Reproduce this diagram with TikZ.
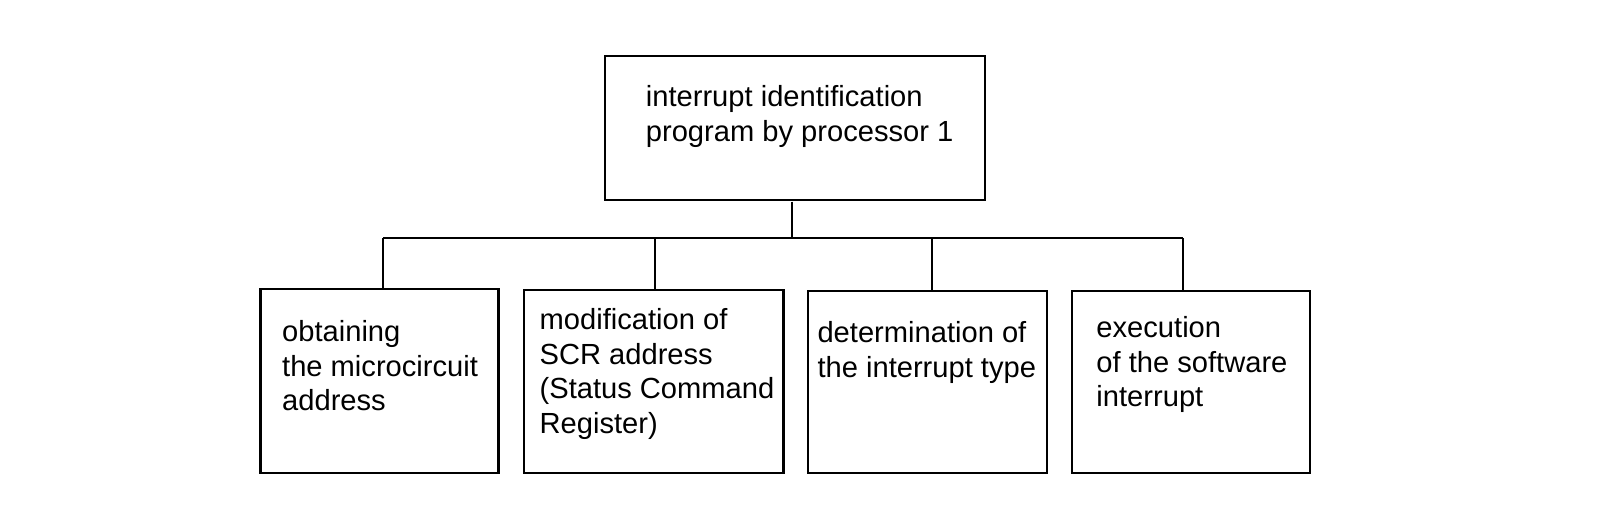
\documentclass[tikz,border=0pt]{standalone}
\usepackage{fontspec}
\setmainfont{Liberation Sans}
\usetikzlibrary{positioning}
\begin{document}
\begin{tikzpicture}[x=1pt,y=-1pt,scale=1.0217,transform shape,
	box/.style={draw,line width=2.5pt,minimum width=#1,inner sep=0pt},
	txt/.style={align=left,anchor=west,inner sep=0pt,font=\fontsize{28.5}{33.8}\selectfont},
	link/.style={line width=2.5pt}]
	\useasboundingbox (0,0) rectangle (1568,511.9);
	
	% boxes
	\node[box=372pt,minimum height=141pt] (top) at (778,125.5) {};
	\node[box=233pt,minimum height=180pt] (obt) at (371.5,373) {};
	\node[box=254pt,minimum height=179pt] (mod) at (640,373.5) {};
	\node[box=234pt,minimum height=178pt] (det) at (908,374) {};
	\node[box=233pt,minimum height=178pt] (exe) at (1165.5,374) {};
	
	% texts
	\node[txt] (ttop) at (632,114) {interrupt identification\\program by processor 1};
	\node[txt] (tobt) at (276,358) {obtaining\\the microcircuit\\address};
	\node[txt] (tmod) at (528,366) {modification of\\SCR address\\(Status Command\\Register)};
	\node[txt] (tdet) at (800,345) {determination of\\the interrupt type};
	\node[txt] (texe) at (1073,357) {execution\\of the software\\interrupt};
	
	% bus
	\coordinate (bus) at (775,233);
	\draw[link] (top.south -| bus) -- (bus);
	\draw[link] (375,233) -- (1158,233);
	\foreach \n/\x in {obt/375,mod/641,det/912,exe/1158}
		\draw[link] (\x,233) -- (\x,0 |- \n.north);
\end{tikzpicture}
\end{document}
